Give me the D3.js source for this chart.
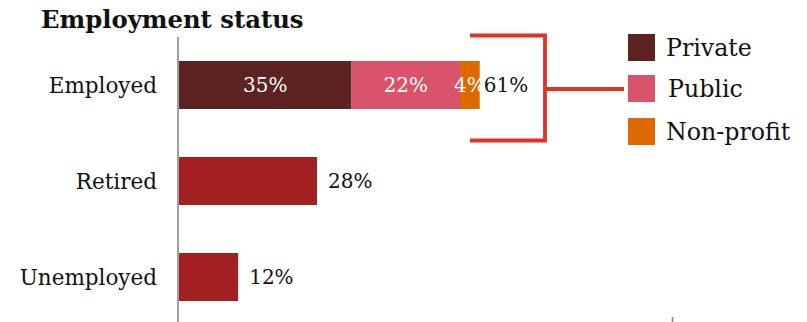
<!DOCTYPE html>
<html>
<head>
<meta charset="utf-8">
<script src="https://cdn.jsdelivr.net/npm/d3@7"></script>
<style>
  html, body { margin: 0; padding: 0; background: #fff; }
  svg { display: block; }
  text { font-family: "DejaVu Serif", Georgia, serif; }
</style>
</head>
<body>
<script>
// Employment status, share of respondents (%)
const categories = ["Employed", "Retired", "Unemployed"];
const sectors = ["Private", "Public", "Non-profit"];
const employedBySector = [35, 22, 4];
const employedTotal = 61;
const otherValues = { Retired: 28, Unemployed: 12 };
const sectorColors = ["#5c2320", "#d9536a", "#dd6a00"];
const barColor = "#a32022";
const bracketColor = "#e03322";

const W = 807, H = 322;
const svg = d3.select("body").append("svg").attr("width", W).attr("height", H);

const x = d3.scaleLinear().domain([0, 100]).range([179, 672]);
const y = d3.scaleBand().domain(categories).range([37, 325])
  .paddingInner(0.5).paddingOuter(0.25);

// title
svg.append("text").attr("x", 41).attr("y", 28)
  .attr("font-size", 24.3).attr("font-weight", "bold").attr("fill", "#111")
  .text("Employment status");

// category labels
svg.append("g").selectAll("text").data(categories).join("text")
  .attr("x", 157).attr("y", d => y(d) + y.bandwidth() / 2)
  .attr("dy", "0.36em").attr("text-anchor", "end")
  .attr("font-size", 21.5).attr("fill", "#111").text(d => d);

// stacked employed bar
const stacked = [];
let acc = 0;
employedBySector.forEach((v, i) => { stacked.push({ key: sectors[i], v, x0: acc, x1: acc + v, c: sectorColors[i] }); acc += v; });

const eg = svg.append("g");
eg.selectAll("rect").data(stacked).join("rect")
  .attr("x", d => x(d.x0)).attr("width", d => x(d.x1) - x(d.x0))
  .attr("y", y("Employed")).attr("height", y.bandwidth())
  .attr("fill", d => d.c);
eg.selectAll("text").data(stacked).join("text")
  .attr("x", d => (x(d.x0) + x(d.x1)) / 2)
  .attr("y", y("Employed") + y.bandwidth() / 2).attr("dy", "0.36em")
  .attr("text-anchor", "middle").attr("font-size", 20).attr("fill", "#fff")
  .text(d => d.v + "%");
svg.append("text").attr("x", x(employedTotal) + 4)
  .attr("y", y("Employed") + y.bandwidth() / 2).attr("dy", "0.36em")
  .attr("font-size", 20).attr("fill", "#111").text(employedTotal + "%");

// single bars
const others = ["Retired", "Unemployed"];
svg.append("g").selectAll("rect").data(others).join("rect")
  .attr("x", x(0)).attr("width", d => x(otherValues[d]) - x(0))
  .attr("y", d => y(d)).attr("height", y.bandwidth()).attr("fill", barColor);
svg.append("g").selectAll("text").data(others).join("text")
  .attr("x", d => x(otherValues[d]) + 11)
  .attr("y", d => y(d) + y.bandwidth() / 2).attr("dy", "0.36em")
  .attr("font-size", 20).attr("fill", "#111").text(d => otherValues[d] + "%");

// vertical axis line
svg.append("line").attr("x1", 178).attr("x2", 178).attr("y1", 37).attr("y2", H)
  .attr("stroke", "#888").attr("stroke-width", 1.6);

// x axis: only the 100% tick mark is visible
const xAxis = d3.axisBottom(x).tickValues([100]).tickSize(5).tickFormat("");
const ax = svg.append("g").attr("transform", `translate(0,${H - 5})`).call(xAxis);
ax.select(".domain").remove();
ax.selectAll(".tick line").attr("stroke", "#888").attr("stroke-width", 1.6).attr("y1", 0);

// bracket linking employed bar to the sector legend
const bx0 = 470, bx1 = 545, by0 = 35.5, by1 = 140.5, bmid = 89;
svg.append("path")
  .attr("d", `M${bx0},${by0}H${bx1}V${by1}H${bx0}M${bx1},${bmid}H624`)
  .attr("fill", "none").attr("stroke", bracketColor).attr("stroke-width", 3.8);

// legend
const lg = svg.append("g");
const legY = [34, 75, 118];
lg.selectAll("rect").data(sectors).join("rect")
  .attr("x", 628).attr("y", (d, i) => legY[i]).attr("width", 27).attr("height", 27)
  .attr("fill", (d, i) => sectorColors[i]);
lg.selectAll("text").data(sectors).join("text")
  .attr("x", (d, i) => i === 1 ? 668 : 666).attr("y", (d, i) => legY[i] + 13.5)
  .attr("dy", "0.36em").attr("font-size", 23.7).attr("fill", "#111").text(d => d);
</script>
</body>
</html>
